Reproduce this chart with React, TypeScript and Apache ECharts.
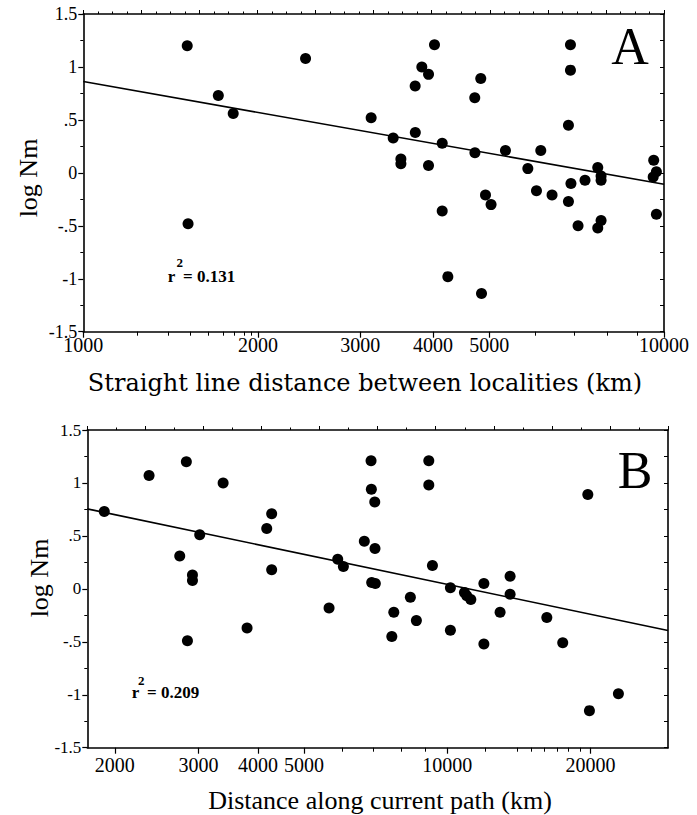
import React, { useEffect, useRef } from "react";
import * as echarts from "echarts";

// ---------- Panel A: straight line distance ----------
const distA = [
  1510, 1515, 1708, 1812, 2414, 3131, 3417, 3523, 3523, 3728, 3730, 3828, 3931, 3931, 4025,
  4150, 4150, 4244, 4722, 4725, 4836, 4850, 4927, 5037, 5333, 5828, 6031, 6135, 6415, 6846,
  6846, 6901, 6901, 6915, 7112, 7311, 7690, 7792, 7792, 7690, 7792, 9600, 9703, 9580, 9703,
];
const logNmA = [
  1.2, -0.48, 0.73, 0.56, 1.08, 0.52, 0.33, 0.13, 0.085, 0.82, 0.38, 1.0, 0.93, 0.07, 1.21,
  0.28, -0.36, -0.98, 0.71, 0.19, 0.89, -1.14, -0.21, -0.3, 0.21, 0.04, -0.17, 0.21, -0.21, 0.45,
  -0.27, 1.21, 0.97, -0.1, -0.5, -0.07, 0.05, -0.03, -0.07, -0.52, -0.45, 0.12, 0.01, -0.04, -0.39,
];
const fitDistA = [1000, 10000];
const fitNmA = [0.862, -0.107];
const rangeA = [1000, 10000];
const labelTicksA = [1000, 2000, 3000, 4000, 5000, 10000];
const minorTicksA = [1240, 1400, 1530, 1640, 1740, 1820, 1890, 1950, 6000, 7000, 8000, 9000];
const r2A = "0.131";
const panelA = "A";
const titleXA = "Straight line distance between localities (km)";

// ---------- Panel B: distance along current path ----------
const distB = [
  1901, 2361, 2828, 3379, 3017, 2739, 2913, 2913, 2843, 3794, 4173, 4274, 4274, 5642, 5884,
  6047, 6914, 6924, 7039, 6692, 7047, 6935, 7058, 7719, 7645, 8363, 8610, 9143, 9143, 9305,
  10151, 10151, 10864, 10987, 11205, 11937, 11937, 12910, 13551, 13551, 16187, 17483, 19740, 19895, 22890,
];
const logNmB = [
  0.73, 1.07, 1.2, 1.0, 0.51, 0.31, 0.13, 0.08, -0.49, -0.37, 0.57, 0.71, 0.18, -0.18, 0.28,
  0.21, 1.21, 0.94, 0.82, 0.45, 0.38, 0.06, 0.05, -0.22, -0.45, -0.08, -0.3, 1.21, 0.98, 0.22,
  0.01, -0.39, -0.035, -0.066, -0.1, 0.05, -0.52, -0.22, 0.12, -0.05, -0.27, -0.51, 0.89, -1.15, -0.99,
];
const fitDistB = [1751, 29100];
const fitNmB = [0.755, -0.394];
const rangeB = [1751, 29100];
const labelTicksB = [2000, 3000, 4000, 5000, 10000, 20000];
const minorTicksB = [6000, 7000, 8000, 9000, 12000, 14000, 15000, 16000, 17000, 18000, 19000];
const r2B = "0.209";
const panelB = "B";
const titleXB = "Distance along current path (km)";

const titleY = "log Nm";
const yRange = [-1.5, 1.5];

const SERIF = "'Liberation Serif', 'Times New Roman', serif";
const WIDE_SERIF = "'DejaVu Serif', 'Liberation Serif', serif";
const BLACK = "#000";
const L = (v: number) => Math.log10(v);

function fmtY(v: number) {
  return String(v).replace(/^(-?)0\./, "$1.");
}

function bottomMain(gridIndex: number, range: number[], labels: number[], margin: number) {
  return {
    type: "value",
    gridIndex,
    position: "bottom",
    min: L(range[0]),
    max: L(range[1]),
    axisLine: { show: true, onZero: false, lineStyle: { color: BLACK, width: 1.6 } },
    axisTick: { show: true, customValues: labels.map(L), length: 6, lineStyle: { color: BLACK, width: 1.2 } },
    axisLabel: {
      show: true,
      customValues: labels.map(L),
      formatter: (v: number) => String(Math.round(Math.pow(10, v))),
      fontFamily: SERIF,
      fontSize: 20,
      color: BLACK,
      margin,
    },
    splitLine: { show: false },
  };
}

function bottomMinor(gridIndex: number, range: number[], minor: number[]) {
  return {
    type: "value",
    gridIndex,
    position: "bottom",
    min: L(range[0]),
    max: L(range[1]),
    axisLine: { show: false, onZero: false },
    axisTick: { show: true, customValues: minor.map(L), length: 4, lineStyle: { color: BLACK, width: 1 } },
    axisLabel: { show: false },
    splitLine: { show: false },
  };
}

function topDeco(gridIndex: number, max: number, interval: number, split: number) {
  return {
    type: "value",
    gridIndex,
    position: "top",
    min: 0,
    max,
    interval,
    axisLine: { show: true, onZero: false, lineStyle: { color: BLACK, width: 1.6 } },
    axisTick: { show: true, length: 4, lineStyle: { color: BLACK, width: 1 } },
    minorTick: { show: true, splitNumber: split, length: 2.5, lineStyle: { color: BLACK, width: 1 } },
    axisLabel: { show: false },
    splitLine: { show: false },
    minorSplitLine: { show: false },
  };
}

function yLeft(gridIndex: number, fontSize: number, margin: number) {
  return {
    type: "value",
    gridIndex,
    position: "left",
    min: yRange[0],
    max: yRange[1],
    interval: 0.5,
    axisLine: { show: true, onZero: false, lineStyle: { color: BLACK, width: 1.6 } },
    axisTick: { show: true, length: 5, lineStyle: { color: BLACK, width: 1.2 } },
    minorTick: { show: true, splitNumber: 2, length: 3, lineStyle: { color: BLACK, width: 1 } },
    axisLabel: { show: true, formatter: fmtY, fontFamily: SERIF, fontSize, color: BLACK, margin },
    splitLine: { show: false },
    minorSplitLine: { show: false },
  };
}

function yRight(gridIndex: number) {
  return {
    type: "value",
    gridIndex,
    position: "right",
    min: yRange[0],
    max: yRange[1],
    interval: 0.25,
    axisLine: { show: true, onZero: false, lineStyle: { color: BLACK, width: 1.6 } },
    axisTick: { show: true, inside: true, length: 4, lineStyle: { color: BLACK, width: 1 } },
    axisLabel: { show: false },
    splitLine: { show: false },
  };
}

function txt(text: string, x: number, y: number, fontSize: number, opts: any = {}) {
  return {
    type: "text",
    x,
    y,
    rotation: opts.rotation || 0,
    z: 100,
    style: {
      text,
      fill: BLACK,
      fontSize,
      fontFamily: opts.family || SERIF,
      fontWeight: opts.bold ? "bold" : "normal",
      align: opts.align || "center",
      textAlign: opts.align || "center",
      verticalAlign: "middle",
      textVerticalAlign: "middle",
    },
  };
}

export default function App() {
  const ref = useRef<HTMLDivElement>(null);

  useEffect(() => {
    if (!ref.current) return;
    const chart = echarts.init(ref.current, null, { renderer: "svg" });

    const option: any = {
      animation: false,
      backgroundColor: "#fff",
      grid: [
        { left: 83.3, top: 14, width: 580.7, height: 317.7 },
        { left: 87.3, top: 430, width: 580.7, height: 317.7 },
      ],
      xAxis: [
        bottomMain(0, rangeA, labelTicksA, 3),
        bottomMinor(0, rangeA, minorTicksA),
        topDeco(0, 10, 1, 4),
        bottomMain(1, rangeB, labelTicksB, 7),
        bottomMinor(1, rangeB, minorTicksB),
        topDeco(1, 20, 2, 2),
      ],
      yAxis: [yLeft(0, 18, 6), yRight(0), yLeft(1, 17, 6), yRight(1)],
      series: [
        {
          type: "line",
          xAxisIndex: 0,
          yAxisIndex: 0,
          data: fitDistA.map((d, i) => [L(d), fitNmA[i]]),
          symbol: "none",
          lineStyle: { color: BLACK, width: 1.6 },
          silent: true,
        },
        {
          type: "scatter",
          xAxisIndex: 0,
          yAxisIndex: 0,
          data: distA.map((d, i) => [L(d), logNmA[i]]),
          symbolSize: 11,
          itemStyle: { color: BLACK, opacity: 1 },
        },
        {
          type: "line",
          xAxisIndex: 3,
          yAxisIndex: 2,
          data: fitDistB.map((d, i) => [L(d), fitNmB[i]]),
          symbol: "none",
          lineStyle: { color: BLACK, width: 1.6 },
          silent: true,
        },
        {
          type: "scatter",
          xAxisIndex: 3,
          yAxisIndex: 2,
          data: distB.map((d, i) => [L(d), logNmB[i]]),
          symbolSize: 11,
          itemStyle: { color: BLACK, opacity: 1 },
        },
      ],
      graphic: [
        txt(titleY, 28, 178, 26, { rotation: Math.PI / 2 }),
        txt(titleY, 39, 578, 26, { rotation: Math.PI / 2 }),
        txt(titleXA, 365, 383, 24, { family: WIDE_SERIF }),
        txt(titleXB, 380, 800, 26),
        txt(panelA, 630, 46, 52),
        txt(panelB, 635, 470, 52),
        txt("r", 167.7, 276, 17, { bold: true, align: "left" }),
        txt("2", 176.5, 262, 13, { bold: true, align: "left" }),
        txt("= " + r2A, 183, 276, 17, { bold: true, align: "left" }),
        txt("r", 131.7, 692, 17, { bold: true, align: "left" }),
        txt("2", 138, 680, 13, { bold: true, align: "left" }),
        txt("= " + r2B, 147, 692, 17, { bold: true, align: "left" }),
      ],
    };

    chart.setOption(option);
    return () => chart.dispose();
  }, []);

  return (
    <div
      ref={ref}
      style={{ position: "absolute", left: 0, top: 0, width: 697, height: 815, background: "#fff" }}
    />
  );
}
